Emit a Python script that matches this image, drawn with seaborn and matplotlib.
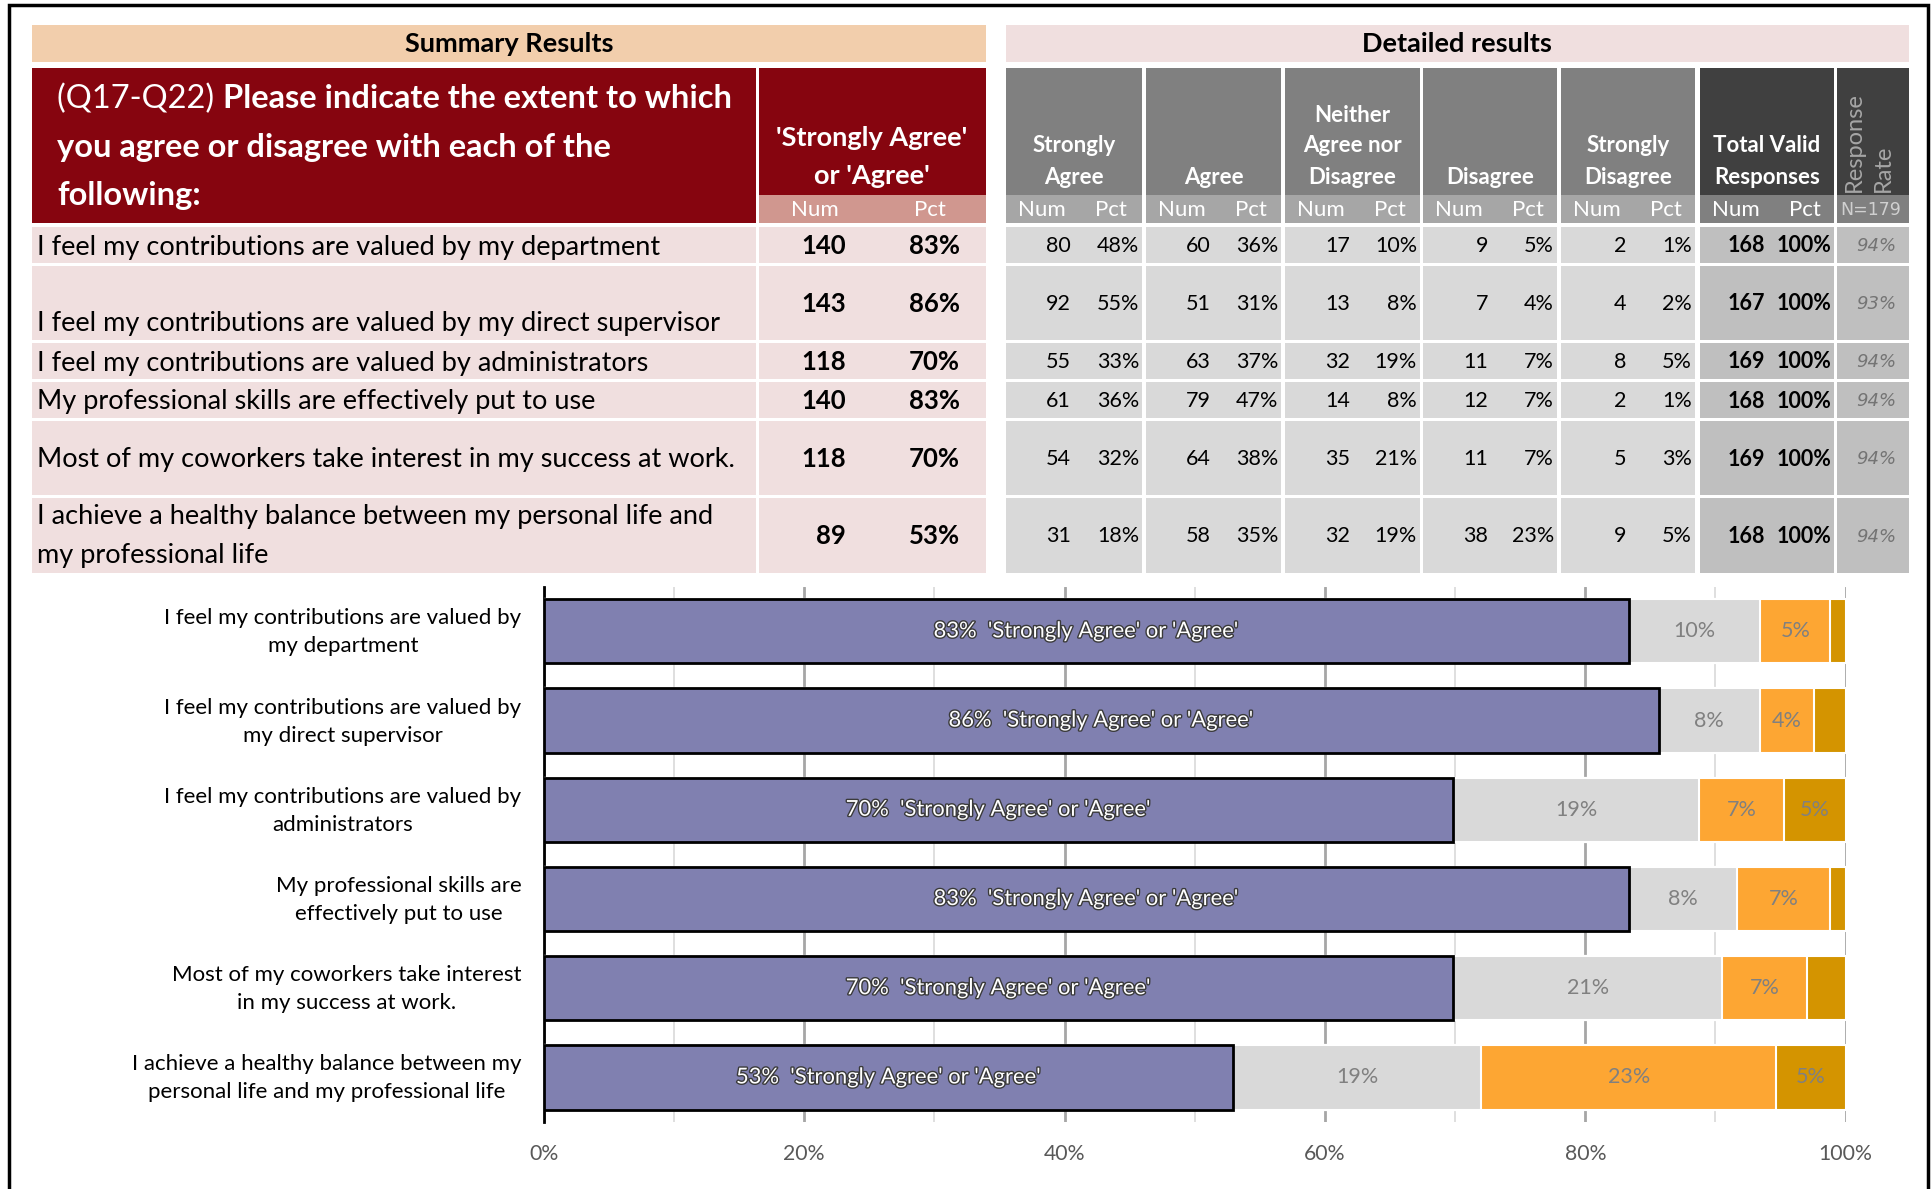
import numpy as np
import pandas as pd
import matplotlib
matplotlib.use("Agg")
import matplotlib.pyplot as plt
import matplotlib.patheffects as pe
import matplotlib.transforms as mtrans
from matplotlib.patches import Rectangle
import seaborn as sns

# ---------------- data ----------------
questions = [
    "I feel my contributions are valued by my department",
    "I feel my contributions are valued by my direct supervisor",
    "I feel my contributions are valued by administrators",
    "My professional skills are effectively put to use",
    "Most of my coworkers take interest in my success at work.",
    "I achieve a healthy balance between my personal life and\nmy professional life",
]
chart_labels = [
    "I feel my contributions are valued by\nmy department",
    "I feel my contributions are valued by\nmy direct supervisor",
    "I feel my contributions are valued by\nadministrators",
    "My professional skills are\neffectively put to use",
    "Most of my coworkers take interest\nin my success at work.",
    "I achieve a healthy balance between my\npersonal life and my professional life",
]
agree_num = [140, 143, 118, 140, 118, 89]
agree_pct = [83, 86, 70, 83, 70, 53]
sa_num = [80, 92, 55, 61, 54, 31]
sa_pct = [48, 55, 33, 36, 32, 18]
a_num = [60, 51, 63, 79, 64, 58]
a_pct = [36, 31, 37, 47, 38, 35]
n_num = [17, 13, 32, 14, 35, 32]
n_pct = [10, 8, 19, 8, 21, 19]
d_num = [9, 7, 11, 12, 11, 38]
d_pct = [5, 4, 7, 7, 7, 23]
sd_num = [2, 4, 8, 2, 5, 9]
sd_pct = [1, 2, 5, 1, 3, 5]
tv_num = [168, 167, 169, 168, 169, 168]
tv_pct = [100, 100, 100, 100, 100, 100]
resp_rate = [94, 93, 94, 94, 94, 94]
n_total = 179
col_headers = ["Strongly\nAgree", "Agree", "Neither\nAgree nor\nDisagree", "Disagree",
               "Strongly\nDisagree", "Total Valid\nResponses"]
x_ticks = [0, 20, 40, 60, 80, 100]

# ---------------- style ----------------
sns.set_theme(style="white")
plt.rcParams["font.family"] = ["Lato", "DejaVu Sans"]

W, H = 1933, 1189
fig = plt.figure(figsize=(W / 100, H / 100), dpi=100)
fig.patch.set_facecolor("white")

cv = fig.add_axes([0, 0, 1, 1])
cv.set_xlim(0, W)
cv.set_ylim(H, 0)
cv.axis("off")

def rect(x0, y0, x1, y1, color, z=1):
    cv.add_patch(Rectangle((x0, y0), x1 - x0, y1 - y0, facecolor=color, edgecolor="none", zorder=z))

def txt(x, y, s, **kw):
    kw.setdefault("va", "center")
    kw.setdefault("zorder", 5)
    return cv.text(x, y, s, **kw)

MAROON = "#86050F"
ROSE = "#D0978F"
PINK = "#F0DFDF"
PEACH = "#F2CEAC"
HDR_GREY = "#808080"
SUB_GREY = "#A6A6A6"
CELL = "#D9D9D9"
DARK = "#404040"
TVCELL = "#BFBFBF"

# frame
cv.plot([9, 9, 1928, 1928], [H, 5, 5, H], color="black", lw=2.5, zorder=10, solid_joinstyle="miter")

# top headers
rect(32, 25, 986, 62, PEACH)
txt(509, 44, "Summary Results", ha="center", fontsize=19.5, fontweight="bold", color="black")
rect(1006, 25, 1909, 62, PINK)
txt(1457, 44, "Detailed results", ha="center", fontsize=19.5, fontweight="bold", color="black")

# question header block
HQ = 23.5
rect(32, 68, 756, 223, MAROON)
t0 = txt(57, 99, "(Q17-Q22) ", ha="left", fontsize=HQ, color="white")
fig.canvas.draw()
bb = t0.get_window_extent(renderer=fig.canvas.get_renderer())
x_after = cv.transData.inverted().transform((bb.x1, bb.y0))[0]
txt(x_after, 99, "Please indicate the extent to which", ha="left", fontsize=HQ,
    fontweight="bold", color="white")
txt(57, 147.5, "you agree or disagree with each of the", ha="left", fontsize=HQ,
    fontweight="bold", color="white")
txt(57, 195.5, "following:", ha="left", fontsize=HQ, fontweight="bold", color="white")

rect(759, 68, 986, 195, MAROON)
txt(872, 138, "'Strongly Agree'", ha="center", fontsize=19.5, fontweight="bold", color="white")
txt(872, 176, "or 'Agree'", ha="center", fontsize=19.5, fontweight="bold", color="white")
rect(759, 195, 986, 223, ROSE)
txt(815, 210, "Num", ha="center", fontsize=16, color="white")
txt(930, 210, "Pct", ha="center", fontsize=16, color="white")

# detailed column headers
cols = [(1006, 1142), (1146, 1281), (1285, 1420), (1423, 1557), (1561, 1695), (1700, 1834)]
rr_col = (1837, 1909)
for j, ((c0, c1), head) in enumerate(zip(cols, col_headers)):
    bg = DARK if j == 5 else HDR_GREY
    rect(c0, 68, c1, 195, bg)
    rect(c0, 195, c1, 223, HDR_GREY if j == 5 else SUB_GREY)
    lines = head.split("\n")
    for k, ln in enumerate(lines):
        txt((c0 + c1) / 2, 177 - 31 * (len(lines) - 1 - k), ln, ha="center",
            fontsize=16, fontweight="bold", color="white")
    txt(c0 + 36, 210, "Num", ha="center", fontsize=16, color="white")
    txt(c0 + 105, 210, "Pct", ha="center", fontsize=16, color="white")
rect(rr_col[0], 68, rr_col[1], 195, DARK)
rect(rr_col[0], 195, rr_col[1], 223, HDR_GREY)
txt(1869, 192, "Response\nRate", ha="center", va="bottom", rotation=90, multialignment="left",
    fontsize=17, color=SUB_GREY, linespacing=1.45)
txt(1871, 210, "N=%d" % n_total, ha="center", fontsize=12.5, color="#D0D0D0", family="DejaVu Sans")

# body rows
QF = 19.5
rows = [(227, 263), (266, 340), (343, 379), (382, 418), (421, 495), (498, 573)]
det_vals = list(zip(sa_num, sa_pct, a_num, a_pct, n_num, n_pct, d_num, d_pct, sd_num, sd_pct,
                    tv_num, tv_pct))
for i, (r0, r1) in enumerate(rows):
    yc = (r0 + r1) / 2
    rect(32, r0, 756, r1, PINK)
    rect(759, r0, 986, r1, PINK)
    if i == 1:
        txt(37, r1 - 16, questions[i], ha="left", fontsize=QF, color="black")
    elif "\n" in questions[i]:
        l1, l2 = questions[i].split("\n")
        txt(37, yc - 19, l1, ha="left", fontsize=QF, color="black")
        txt(37, yc + 20, l2, ha="left", fontsize=QF, color="black")
    else:
        txt(37, yc + 2, questions[i], ha="left", fontsize=QF, color="black")
    txt(846, yc + 1, "%d" % agree_num[i], ha="right", fontsize=18.5, fontweight="bold", color="black")
    txt(960, yc + 1, "%d%%" % agree_pct[i], ha="right", fontsize=18.5, fontweight="bold", color="black")
    vals = det_vals[i]
    for j, (c0, c1) in enumerate(cols):
        rect(c0, r0, c1, r1, TVCELL if j == 5 else CELL)
        fw = "bold" if j == 5 else "normal"
        txt(c0 + 65, yc + 1, "%d" % vals[2 * j], ha="right", fontsize=15.5, fontweight=fw, color="black")
        txt(c1 - 3, yc + 1, "%d%%" % vals[2 * j + 1], ha="right", fontsize=15.5, fontweight=fw,
            color="black")
    rect(rr_col[0], r0, rr_col[1], r1, TVCELL)
    txt(1896, yc + 1, "%d%%" % resp_rate[i], ha="right", fontsize=13, style="italic",
        color="#747474", family="DejaVu Sans")

# ---------------- stacked bar chart ----------------
tot = np.array(tv_num, dtype=float)
p_agree = np.array(agree_num) / tot * 100
p_neither = np.array(n_num) / tot * 100
p_dis = np.array(d_num) / tot * 100
p_sd = np.array(sd_num) / tot * 100
df = pd.DataFrame({
    "label": chart_labels,
    "c_agree": p_agree,
    "c_neither": p_agree + p_neither,
    "c_dis": p_agree + p_neither + p_dis,
    "c_sd": p_agree + p_neither + p_dis + p_sd,
})

ax = fig.add_axes([0.2813, 0.0563, 0.6735, 0.4502])
PURPLE = "#8080B0"
NEITHER = "#D9D9D9"
ORANGE = "#FDA633"
GOLD = "#D49400"
BW = 0.72
sns.barplot(data=df, y="label", x="c_sd", color=GOLD, saturation=1, orient="h", width=BW,
            edgecolor="white", linewidth=1.5, errorbar=None, ax=ax, zorder=3)
sns.barplot(data=df, y="label", x="c_dis", color=ORANGE, saturation=1, orient="h", width=BW,
            edgecolor="white", linewidth=1.5, errorbar=None, ax=ax, zorder=3)
sns.barplot(data=df, y="label", x="c_neither", color=NEITHER, saturation=1, orient="h", width=BW,
            edgecolor="white", linewidth=1.5, errorbar=None, ax=ax, zorder=3)
sns.barplot(data=df, y="label", x="c_agree", color=PURPLE, saturation=1, orient="h", width=BW,
            edgecolor="black", linewidth=2, errorbar=None, ax=ax, zorder=4)

for i in range(len(chart_labels)):
    ax.text(p_agree[i] / 2, i, "%d%%  'Strongly Agree' or 'Agree'" % agree_pct[i], ha="center",
            va="center", fontsize=15.8, color="white", zorder=6,
            path_effects=[pe.withStroke(linewidth=2, foreground="#3A3A3A")])
    segs = [(p_agree[i], p_neither[i], n_pct[i]),
            (p_agree[i] + p_neither[i], p_dis[i], d_pct[i]),
            (p_agree[i] + p_neither[i] + p_dis[i], p_sd[i], sd_pct[i])]
    for start, w, lab in segs:
        if lab >= 4:
            ax.text(start + w / 2, i, "%d%%" % lab, ha="center", va="center", fontsize=15.5,
                    color="#808080", zorder=6)

ax.set_xlim(0, 100)
ax.set_ylim(5.5, -0.5)
ax.set_xticks(x_ticks)
ax.set_xticklabels(["%d%%" % v for v in x_ticks])
ax.set_xticks([10, 30, 50, 70, 90], minor=True)
ax.set_axisbelow(True)
ax.grid(axis="x", which="major", color="#A6A6A6", lw=2)
ax.grid(axis="x", which="minor", color="#D9D9D9", lw=1.2)
ax.grid(axis="y", visible=False)
ax.tick_params(axis="x", which="both", length=0, pad=16, labelsize=15.3, labelcolor="#595959")
ax.tick_params(axis="y", length=0, pad=16, labelsize=16, labelcolor="black")
shift_up = mtrans.ScaledTranslation(0, 5 / 100, fig.dpi_scale_trans)
for lab in ax.get_yticklabels():
    lab.set_multialignment("center")
    lab.set_linespacing(1.5)
    lab.set_transform(lab.get_transform() + shift_up)
ax.set_xlabel("")
ax.set_ylabel("")
for s in ["top", "right", "bottom"]:
    ax.spines[s].set_visible(False)
ax.spines["left"].set_color("black")
ax.spines["left"].set_linewidth(2)
ax.patch.set_alpha(0)

fig.savefig("out.png", dpi=100)
